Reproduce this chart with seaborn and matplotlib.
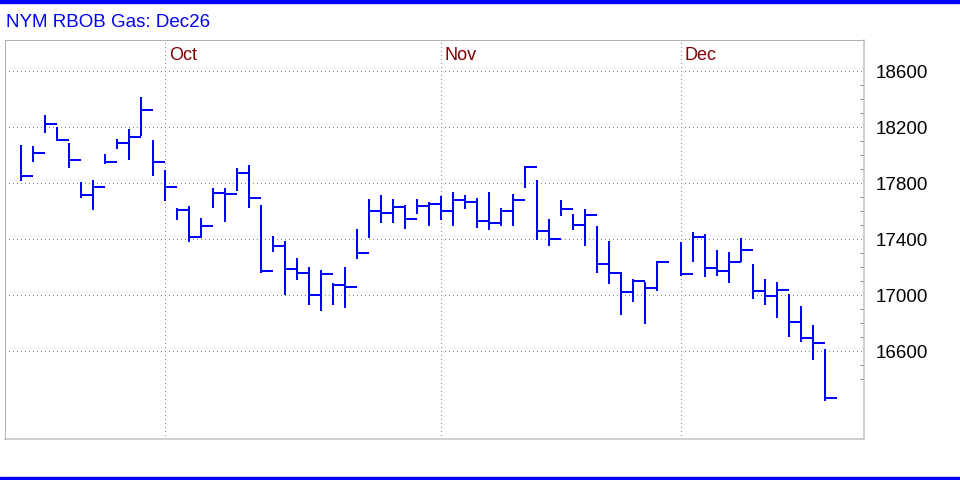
import matplotlib
matplotlib.use("Agg")
import matplotlib.pyplot as plt
import matplotlib.transforms as mtransforms
from matplotlib.patches import Rectangle
import numpy as np
import pandas as pd
import seaborn as sns

sns.set_theme(style="white")
plt.rcParams["font.family"] = ["Liberation Sans", "DejaVu Sans"]

nan = np.nan

# daily bars, one slot per weekday (slot 54 has no trade)
high = [18066, 18057, 18281, 18197, 18081, 17800, 17816, 18002, 18109, 18181,
        18409, 18102, 17888, 17616, 17631, 17545, 17759, 17759, 17902, 17924,
        17638, 17416, 17379, 17259, 17195, 17174, 17079, 17195, 17466, 17681,
        17709, 17681, 17638, 17681, 17661, 17704, 17733, 17709, 17688, 17733,
        17614, 17716, 17919, 17816, 17538, 17674, 17574, 17609, 17488, 17381,
        17161, 17111, 17086, 17238, nan, 17374, 17445, 17431, 17316, 17302,
        17402, 17216, 17109, 17088, 17002, 16916, 16781, 16609]
low = [17824, 17961, 18169, 18109, 17919, 17704, 17619, 17943, 18054, 17974,
       18145, 17859, 17681, 17547, 17390, 17419, 17633, 17533, 17752, 17633,
       17164, 17319, 17009, 17119, 16940, 16897, 16940, 16919, 17264, 17419,
       17526, 17526, 17483, 17586, 17502, 17545, 17502, 17626, 17488, 17476,
       17502, 17502, 17776, 17402, 17359, 17576, 17471, 17361, 17169, 17090,
       16869, 16961, 16804, 17040, nan, 17147, 17247, 17140, 17147, 17097,
       17247, 16983, 16940, 16847, 16711, 16676, 16547, 16254]
close = [17854, 18019, 18221, 18111, 17969, 17719, 17774, 17954, 18086, 18133,
         18326, 17954, 17774, 17610, 17419, 17495, 17733, 17726, 17876, 17697,
         17176, 17354, 17186, 17161, 17004, 17154, 17076, 17061, 17304, 17604,
         17586, 17633, 17545, 17640, 17650, 17604, 17683, 17669, 17533, 17519,
         17604, 17681, 17919, 17461, 17402, 17619, 17502, 17576, 17226, 17161,
         17026, 17104, 17054, 17238, nan, 17154, 17419, 17197, 17176, 17240,
         17326, 17033, 16997, 17040, 16811, 16697, 16661, 16266]

months = ["Oct", "Nov", "Dec"]
month_start = [12, 35, 55]
y_ticks = [16600, 17000, 17400, 17800, 18200, 18600]

BLUE = "#0000FF"
PX = 0.72  # one pixel in points at dpi 100

bars = pd.DataFrame({"slot": np.arange(len(high)), "high": high,
                     "low": low, "close": close}).dropna()
bars["bar"] = bars["slot"]

spans = bars.melt(id_vars=["bar", "slot"], value_vars=["low", "high"],
                  value_name="price")
ticks = pd.concat([
    bars.assign(x=bars["slot"], price=bars["close"]),
    bars.assign(x=bars["slot"] + 1, price=bars["close"]),
])[["bar", "x", "price"]]

fig = plt.figure(figsize=(9.6, 4.8), dpi=100)
ax = fig.add_axes([5 / 960, 1 - 439 / 480, 859 / 960, 399 / 480])

sns.lineplot(data=spans, x="slot", y="price", units="bar", estimator=None,
             color=BLUE, lw=2 * PX, antialiased=False, ax=ax)
sns.lineplot(data=ticks, x="x", y="price", units="bar", estimator=None,
             color=BLUE, lw=2 * PX, solid_capstyle="butt", antialiased=False,
             ax=ax)

ax.set_xlim(-1.333, 70.25)
ax.set_ylim(15974, 18824)
ax.set_xlabel("")
ax.set_ylabel("")

ax.set_xticks(month_start)
ax.set_xticklabels([])
ax.set_yticks(y_ticks)
ax.set_yticks(range(16400, 18600, 100), minor=True)
ax.yaxis.tick_right()
ax.tick_params(axis="x", length=0)
ax.tick_params(axis="y", which="major", length=0, pad=8.6,
               labelsize=13.5, labelcolor="black")
ax.tick_params(axis="y", which="minor", direction="in", length=3,
               width=PX, color="#808080", right=True, left=False)
ax.grid(True, which="major", color="#808080", linestyle=(0, (1, 3)), lw=PX,
        antialiased=False)

for side in ["right", "bottom"]:
    ax.spines[side].set_color("#c0c0c0")
    ax.spines[side].set_linewidth(1.5 * PX)
for side in ["left", "top"]:
    ax.spines[side].set_color("#b0b0b0")
    ax.spines[side].set_linewidth(PX)
    ax.spines[side].set_linestyle((0, (1, 1)))

trans = mtransforms.blended_transform_factory(ax.transData, ax.transAxes)
for name, m in zip(months, month_start):
    ax.annotate(name, xy=(m, 1), xycoords=trans, xytext=(4, -20),
                textcoords="offset pixels", va="baseline", ha="left",
                color="#800000", fontsize=13)

fig.text(6 / 960, 1 - 27.3 / 480, "NYM RBOB Gas: Dec26", color=BLUE,
         fontsize=13.5, ha="left", va="baseline")

fig.patches.append(Rectangle((0, 1 - 3 / 480), 1, 3 / 480, color=BLUE,
                             transform=fig.transFigure, figure=fig))
fig.patches.append(Rectangle((0, 0), 1, 3 / 480, color=BLUE,
                             transform=fig.transFigure, figure=fig))

fig.savefig("out.png", dpi=100)
